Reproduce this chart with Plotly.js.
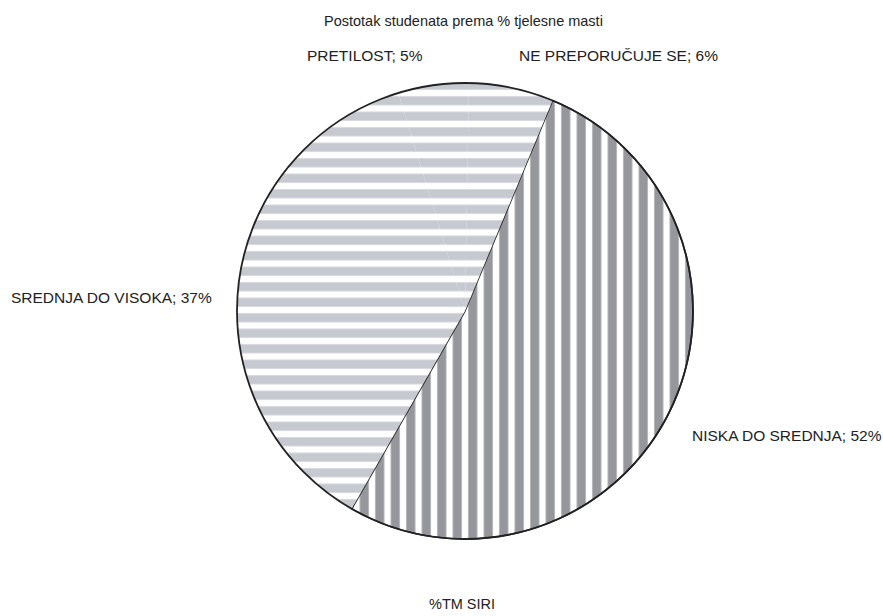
<!DOCTYPE html>
<html>
<head>
<meta charset="utf-8">
<script src="https://cdn.plot.ly/plotly-3.0.1.min.js"></script>
<style>html,body{margin:0;padding:0;background:#fff;}#chart{width:883px;height:616px;}</style>
</head>
<body>
<div id="chart"></div>
<script>
// Data
var categories = ["NISKA DO SREDNJA", "SREDNJA DO VISOKA", "PRETILOST", "NE PREPORUČUJE SE"];
var percentages = [52, 37, 5, 6];
var chartTitle = "Postotak studenata prema % tjelesne masti";
var axisLabel = "%TM SIRI";

var labelText = categories.map(function (c, i) { return c + "; " + percentages[i] + "%"; });

var dom = { x: [0.2684, 0.7848], y: [0.125, 0.8653] };

var piePattern = {
  shape: ["|", "-", "-", "-"],
  fgcolor: ["#96979c", "#c6c9d0", "#c6c9d0", "#c6c9d0"],
  bgcolor: ["#ffffff", "#ffffff", "#ffffff", "#ffffff"],
  size: 15.5,
  solidity: 0.58
};

var slices = {
  type: "pie",
  labels: categories,
  values: percentages,
  sort: false,
  direction: "clockwise",
  rotation: 22.6,
  textinfo: "none",
  hoverinfo: "label+percent",
  showlegend: false,
  domain: dom,
  marker: {
    colors: ["#ffffff", "#ffffff", "#ffffff", "#ffffff"],
    pattern: piePattern,
    line: { color: "#222222", width: [1.6, 0, 0, 0] }
  }
};

var outline = {
  type: "pie",
  labels: ["outline"],
  values: [1],
  textinfo: "none",
  hoverinfo: "skip",
  showlegend: false,
  domain: dom,
  marker: { colors: ["rgba(0,0,0,0)"], line: { color: "#222222", width: 1.8 } }
};

var lblFont = { family: "Liberation Sans, Arial, sans-serif", size: 15.5, color: "#222222" };
var labelPos = [
  { x: 787 / 883, y: 1 - 435 / 616 },
  { x: 112 / 883, y: 1 - 297 / 616 },
  { x: 365 / 883, y: 1 - 55 / 616 },
  { x: 618 / 883, y: 1 - 55 / 616 }
];
var annotations = labelText.map(function (t, i) {
  return { text: t, xref: "paper", yref: "paper", x: labelPos[i].x, y: labelPos[i].y,
           xanchor: "center", yanchor: "middle", showarrow: false, font: lblFont };
});
annotations.push({ text: chartTitle, xref: "paper", yref: "paper", x: 463 / 883, y: 1 - 21 / 616,
  xanchor: "center", yanchor: "middle", showarrow: false,
  font: { family: "Liberation Sans, Arial, sans-serif", size: 14.5, color: "#222222" } });
annotations.push({ text: axisLabel, xref: "paper", yref: "paper", x: 462 / 883, y: 1 - 604 / 616,
  xanchor: "center", yanchor: "middle", showarrow: false,
  font: { family: "Liberation Sans, Arial, sans-serif", size: 14.5, color: "#222222" } });

var layout = {
  width: 883, height: 616,
  margin: { l: 0, r: 0, t: 0, b: 0 },
  paper_bgcolor: "#ffffff",
  showlegend: false,
  annotations: annotations
};

Plotly.newPlot("chart", [slices, outline], layout, { displayModeBar: false, staticPlot: true });
</script>
</body>
</html>
